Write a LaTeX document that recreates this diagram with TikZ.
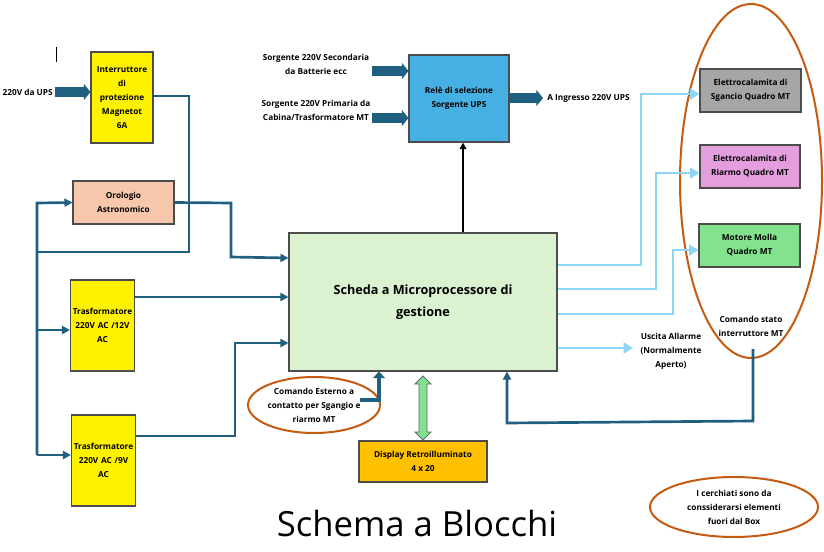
\documentclass[tikz,border=0pt]{standalone}
\usepackage{fontspec}
\setmainfont{Open Sans}
\usetikzlibrary{arrows.meta,shapes.geometric}
\definecolor{dblue}{HTML}{1F5F80}
\definecolor{lblue}{HTML}{8FD5F5}
\definecolor{rust}{HTML}{C55A11}
\begin{document}
\begin{tikzpicture}[x=0.75pt,y=-0.75pt,
  box/.style={draw=black!70,line width=0.8pt,align=center,inner sep=1pt,font=\fontsize{6.2}{10.5}\selectfont\bfseries},
  lbl/.style={align=center,inner sep=0pt,font=\fontsize{6.2}{10.5}\selectfont\bfseries},
  dw/.style={draw=dblue,line width=2pt,-{Triangle[length=6pt,width=6pt]}},
  dwn/.style={draw=dblue,line width=2pt},
  lw/.style={draw=lblue,line width=2pt,-{Triangle[length=7pt,width=8pt]}},
  fat/.style={draw=dblue,line width=7pt,-{Triangle[length=5pt,width=12pt]}},
  ring/.style={draw=rust,line width=1.5pt,ellipse}]
\useasboundingbox (0,0) rectangle (824,552);
\fill[white] (0,0) rectangle (824,552);
% boxes
\node[box,fill=yellow,minimum width=46.5pt,minimum height=68.25pt,text width=44pt] (int) at (122,97.5) {Interruttore\\di\\protezione\\Magnetot\\6A};
\node[box,fill={rgb,255:red,247;green,199;blue,172},minimum width=75.75pt,minimum height=32.25pt] (orol) at (123.5,202.5) {Orologio\\Astronomico};
\node[box,fill=yellow,minimum width=45.75pt,minimum height=68.25pt,text width=46pt] (t12) at (102.5,325.5) {Trasformatore\\220V AC /12V\\AC};
\node[box,fill=yellow,minimum width=45.75pt,minimum height=68.25pt,text width=46pt] (t9) at (103.5,460.5) {Trasformatore\\220V AC /9V\\AC};
\node[box,fill={rgb,255:red,218;green,242;blue,208},minimum width=201pt,minimum height=103.5pt,font=\fontsize{9.5}{16.5}\selectfont\bfseries] (sch) at (423,302) {Scheda a Microprocessore di\\gestione};
\node[box,fill={rgb,255:red,69;green,176;blue,225},minimum width=75pt,minimum height=65.25pt] (rele) at (459,98.5) {Relè di selezione\\Sorgente UPS};
\node[box,fill={rgb,255:red,166;green,166;blue,166},minimum width=75.75pt,minimum height=32.25pt] (sg) at (750.5,90.5) {Elettrocalamita di\\Sgancio Quadro MT};
\node[box,fill={rgb,255:red,229;green,158;blue,221},minimum width=75pt,minimum height=32.25pt] (ri) at (750,166.5) {Elettrocalamita di\\Riarmo Quadro MT};
\node[box,fill={rgb,255:red,131;green,226;blue,142},minimum width=75.75pt,minimum height=32.25pt] (mo) at (749.5,245.5) {Motore Molla\\Quadro MT};
\node[box,fill={rgb,255:red,255;green,192;blue,0},minimum width=96pt,minimum height=30.75pt] (disp) at (423,461.5) {Display Retroilluminato\\4 x 20};
% labels
\node[lbl,anchor=east] (ups) at (53,92) {220V da UPS};
\node[lbl] (s2) at (316,64) {Sorgente 220V Secondaria\\da Batterie ecc};
\node[lbl] (s1) at (316,110) {Sorgente 220V Primaria da\\Cabina/Trasformatore MT};
\node[lbl,anchor=west] (ain) at (547,98) {A Ingresso 220V UPS};
\node[lbl] (all) at (671,351) {Uscita Allarme\\(Normalmente\\Aperto)};
\node[lbl] (cst) at (751,326) {Comando stato\\interruttore MT};
\node[lbl] (cest) at (314,405) {Comando Esterno a\\contatto per Sgangio e\\riarmo MT};
\node[lbl] (note) at (734,507) {I cerchiati sono da\\conssiderarsi elementi\\fuori dal Box};
\node[inner sep=0pt,font=\fontsize{26}{30}\selectfont] (title) at (417,523) {Schema a Blocchi};
% rings
\node[ring,minimum width=106.5pt,minimum height=265.5pt] (big) at (751,181) {};
\node[ring,minimum width=99pt,minimum height=42pt] (ce) at (314,405) {};
\node[ring,minimum width=126pt,minimum height=45pt] (ne) at (734,507) {};
\draw[black,line width=0.6pt] (56,47) -- (56,62);
% fat arrows
\draw[fat] (55,92) -- (int.west |- 0,92);
\draw[fat] (372,71) -- (rele.west |- 0,71);
\draw[fat] (372,118) -- (rele.west |- 0,118);
\draw[fat] (rele.east |- 0,98) -- (543,98);
\draw[black,line width=1.5pt,-{Triangle[length=5pt,width=5pt]}] (sch.north -| 463,0) -- (rele.south -| 463,0);
% left wiring
\draw[dwn] (int.east |- 0,96) -- (189,96) -- (189,252) -- (37,252);
\draw[dw] (37,455) -- (37,203) -- (orol.west);
\draw[dw] (37,330) -- (t12.west |- 0,330);
\draw[dw] (37,455) -- (t9.west |- 0,455);
\draw[dw] (orol.east) -- (231,203) -- (231,257) -- (sch.west |- 0,258);
\draw[dw] (t12.east |- 0,297) -- (sch.west |- 0,297);
\draw[dw] (t9.east |- 0,436) -- (235,436) -- (235,343) -- (sch.west |- 0,343);
% right outputs
\draw[lw] (sch.east |- 0,265) -- (641,265) -- (641,94) -- (sg.west |- 0,94);
\draw[lw] (sch.east |- 0,289) -- (656,289) -- (656,173) -- (ri.west |- 0,173);
\draw[lw] (sch.east |- 0,314) -- (673,314) -- (673,250) -- (mo.west |- 0,250);
\draw[lw] (sch.east |- 0,348) -- (633,348);
\draw[dw] (753,349) -- (753,421) -- (507,423) -- (sch.south -| 507,0);
% bottom
\draw[draw=dblue,line width=3.5pt,-{Triangle[length=5pt,width=9pt]}] (360,400) -- (379,400) -- (sch.south -| 379,0);
\draw[draw=black!60,fill={rgb,255:red,131;green,226;blue,142},line width=0.6pt]
 (423,376) -- (431,384) -- (427,384) -- (427,432) -- (431,432) -- (423,440) -- (415,432) -- (419,432) -- (419,384) -- (415,384) -- cycle;
\end{tikzpicture}
\end{document}
